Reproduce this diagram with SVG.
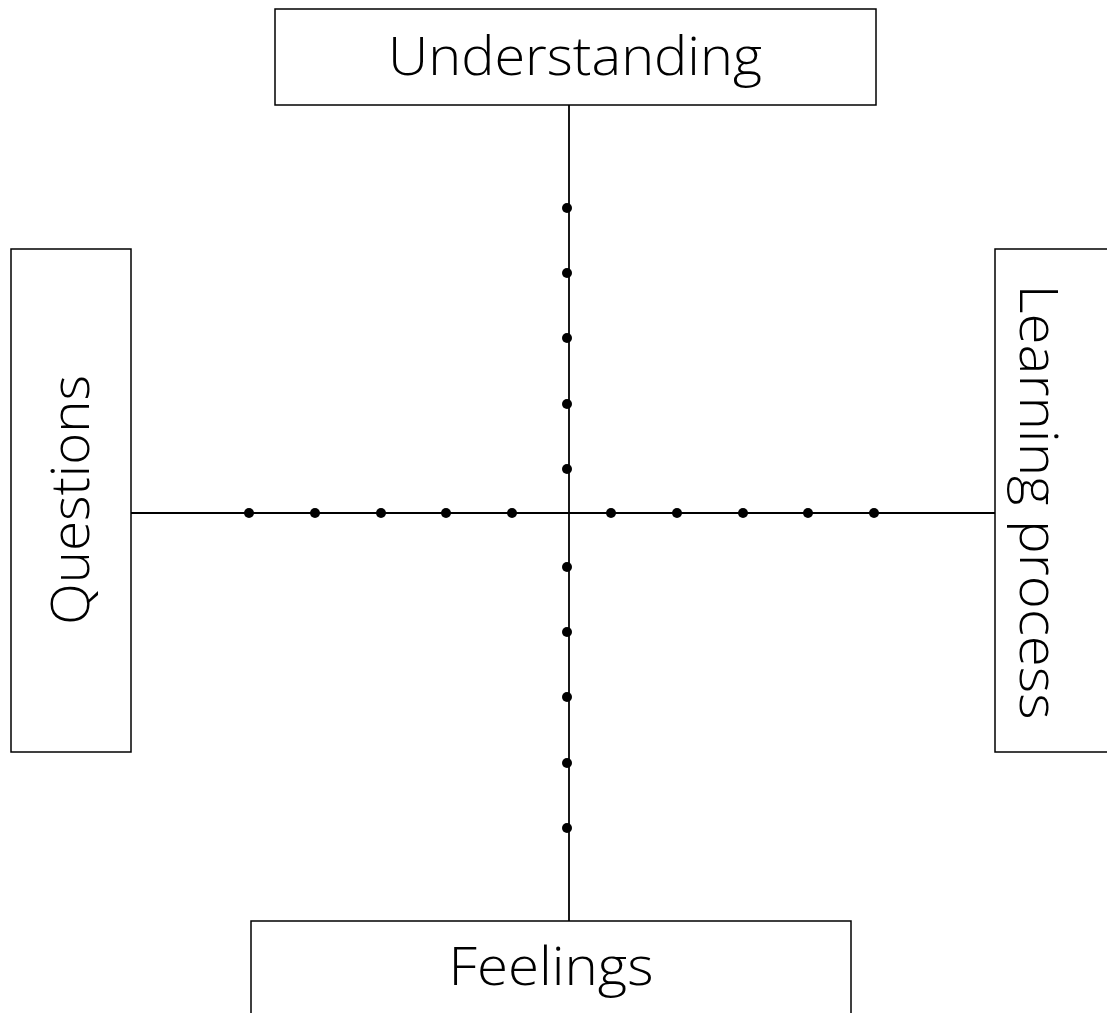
<svg xmlns="http://www.w3.org/2000/svg" width="1107" height="1013" viewBox="0 0 1107 1013">
<style>
.box{fill:#fff;stroke:#000;stroke-width:1.5}
.lbl{font-family:"Open Sans","DejaVu Sans",sans-serif;font-weight:300;font-size:53px;fill:#000;text-anchor:middle}
.ax{stroke:#000;stroke-width:1.8;fill:none}
.dot{fill:#000}
</style>
<rect width="1107" height="1013" fill="#fff"/>
<g id="connectors">
<line class="ax" x1="569" y1="105" x2="569" y2="921"/>
<line class="ax" x1="131" y1="513" x2="995" y2="513"/>
<g id="dots">
<circle class="dot" cx="567" cy="208" r="5"/>
<circle class="dot" cx="567" cy="273" r="5"/>
<circle class="dot" cx="567" cy="338" r="5"/>
<circle class="dot" cx="567" cy="404" r="5"/>
<circle class="dot" cx="567" cy="469" r="5"/>
<circle class="dot" cx="567" cy="567" r="5"/>
<circle class="dot" cx="567" cy="632" r="5"/>
<circle class="dot" cx="567" cy="697" r="5"/>
<circle class="dot" cx="567" cy="763" r="5"/>
<circle class="dot" cx="567" cy="828" r="5"/>
<circle class="dot" cx="249" cy="513" r="5"/>
<circle class="dot" cx="315" cy="513" r="5"/>
<circle class="dot" cx="381" cy="513" r="5"/>
<circle class="dot" cx="446" cy="513" r="5"/>
<circle class="dot" cx="512" cy="513" r="5"/>
<circle class="dot" cx="611" cy="513" r="5"/>
<circle class="dot" cx="677" cy="513" r="5"/>
<circle class="dot" cx="743" cy="513" r="5"/>
<circle class="dot" cx="808" cy="513" r="5"/>
<circle class="dot" cx="874" cy="513" r="5"/>
</g>
</g>
<g id="understanding">
<rect class="box" x="275" y="9" width="601" height="96"/>
<text class="lbl" x="575" y="75" textLength="374" lengthAdjust="spacingAndGlyphs">Understanding</text>
</g>
<g id="questions">
<rect class="box" x="11" y="249" width="120" height="503"/>
<text class="lbl" transform="translate(89,500) rotate(-90)" x="0" y="0" textLength="250" lengthAdjust="spacingAndGlyphs">Questions</text>
</g>
<g id="learning">
<rect class="box" x="995" y="249" width="120" height="503"/>
<text class="lbl" transform="translate(1020,502) rotate(90)" x="0" y="0" textLength="435" lengthAdjust="spacingAndGlyphs">Learning process</text>
</g>
<g id="feelings">
<rect class="box" x="251" y="921" width="600" height="110"/>
<text class="lbl" x="551" y="985" textLength="205" lengthAdjust="spacingAndGlyphs">Feelings</text>
</g>
</svg>
